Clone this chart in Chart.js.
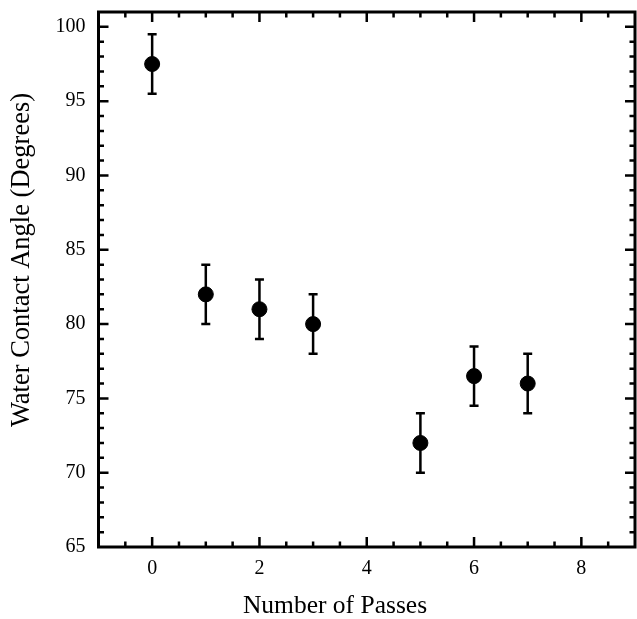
<!DOCTYPE html>
<html><head><meta charset="utf-8">
<script src="https://cdn.jsdelivr.net/npm/chart.js@4"></script>
<style>html,body{margin:0;padding:0;background:#fff;overflow:hidden}#wrap{width:637px;height:619px;overflow:hidden}canvas{display:block;width:637px;height:619px}</style>
</head><body><div id="wrap"><canvas id="c" width="637" height="619"></canvas></div>
<script>
const passes = [0, 1, 2, 3, 5, 6, 7];
const angles = [97.5, 82, 81, 80, 72, 76.5, 76];
const errors = [2, 2, 2, 2, 2, 2, 2];
const xTicks = [0, 2, 4, 6, 8];
const yTicks = [65, 70, 75, 80, 85, 90, 95, 100];
const xTitle = 'Number of Passes';
const yTitle = 'Water Contact Angle (Degrees)';

const FONT = "'Liberation Serif','Times New Roman',serif";

const noPad = () => ({left: 0, top: 0, right: 0, bottom: 0});

const frame = {
  id: 'frame',
  afterDatasetsDraw(chart) {
    const ctx = chart.ctx, a = chart.chartArea;
    const xs = chart.scales.x, ys = chart.scales.y;
    ctx.save();
    ctx.strokeStyle = '#000';
    ctx.lineWidth = 2.5;
    passes.forEach((p, i) => {
      const x = xs.getPixelForValue(p);
      const yt = ys.getPixelForValue(angles[i] + errors[i]);
      const yb = ys.getPixelForValue(angles[i] - errors[i]);
      ctx.beginPath();
      ctx.moveTo(x, yt); ctx.lineTo(x, yb);
      ctx.moveTo(x - 4.5, yt); ctx.lineTo(x + 4.5, yt);
      ctx.moveTo(x - 4.5, yb); ctx.lineTo(x + 4.5, yb);
      ctx.stroke();
    });
    ctx.lineWidth = 2.5;
    ctx.beginPath();
    for (let v = -0.5; v < 9; v += 0.5) {
      const x = xs.getPixelForValue(v);
      const len = (Math.abs(v % 2) < 1e-9) ? 10 : 5.5;
      ctx.moveTo(x, a.bottom); ctx.lineTo(x, a.bottom - len);
      ctx.moveTo(x, a.top); ctx.lineTo(x, a.top + len);
    }
    for (let v = 66; v < 101; v += 1) {
      const y = ys.getPixelForValue(v);
      const len = (v % 5 === 0) ? 10 : 5.5;
      ctx.moveTo(a.left, y); ctx.lineTo(a.left + len, y);
      ctx.moveTo(a.right, y); ctx.lineTo(a.right - len, y);
    }
    ctx.stroke();
    ctx.lineWidth = 3;
    ctx.strokeRect(a.left, a.top, a.right - a.left, a.bottom - a.top);
    ctx.fillStyle = '#000';
    ctx.textAlign = 'center';
    ctx.textBaseline = 'middle';
    ctx.font = "25.5px " + FONT;
    ctx.fillText(xTitle, 335, 606);
    ctx.translate(22, 260);
    ctx.rotate(-Math.PI / 2);
    ctx.font = "26.5px " + FONT;
    ctx.fillText(yTitle, 0, 0);
    ctx.restore();
  }
};

new Chart(document.getElementById('c'), {
  type: 'scatter',
  data: {
    datasets: [{
      data: passes.map((p, i) => ({x: p, y: angles[i]})),
      backgroundColor: '#000',
      borderColor: '#000',
      pointRadius: 7.5,
      pointHoverRadius: 7.5
    }]
  },
  options: {
    responsive: false,
    animation: false,
    events: [],
    layout: {autoPadding: false, padding: {top: 12, right: 2, left: 0, bottom: 0}},
    plugins: {legend: {display: false}, tooltip: {enabled: false}},
    scales: {
      x: {
        type: 'linear', min: -1, max: 9,
        afterBuildTicks: s => { s.ticks = xTicks.map(v => ({value: v})); },
        afterFit: s => { s.height = 72; s.paddingLeft = 0; s.paddingRight = 0; s.getPadding = noPad; },
        grid: {display: false, drawTicks: false},
        border: {display: false},
        ticks: {color: '#000', padding: 10, font: {family: FONT, size: 20}, maxRotation: 0}
      },
      y: {
        type: 'linear', min: 65, max: 101,
        afterBuildTicks: s => { s.ticks = yTicks.map(v => ({value: v})); },
        afterFit: s => { s.width = 98.5; s.paddingTop = 0; s.paddingBottom = 0; s.getPadding = noPad; },
        grid: {display: false, drawTicks: false},
        border: {display: false},
        ticks: {color: '#000', padding: 13, font: {family: FONT, size: 20}}
      }
    }
  },
  plugins: [frame]
});
</script>
</body></html>
